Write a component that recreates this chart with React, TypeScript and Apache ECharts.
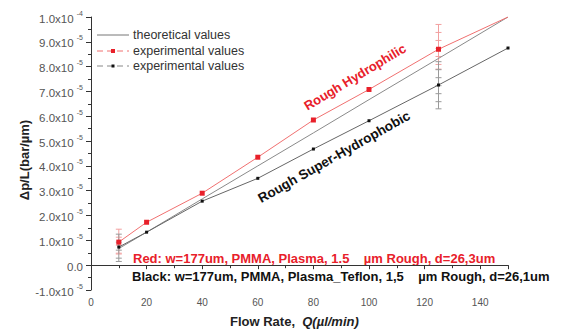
import React, { useEffect, useRef } from "react";
import * as echarts from "echarts";

// Δp/L values are in units of 1e-5 bar/µm
const flowRate = [10, 20, 40, 60, 80, 100, 125, 150];
const theoretical = [0.67, 1.33, 2.67, 4.0, 5.33, 6.67, 8.33, 10.0];
const redExperimental = [0.93, 1.73, 2.9, 4.35, 5.85, 7.08, 8.7, 10.0];
const blackExperimental = [0.73, 1.33, 2.58, 3.5, 4.68, 5.82, 7.26, 8.75];
// [flow, low, high]
const redErrors = [
  [10, 0.45, 1.45],
  [125, 7.9, 9.7],
];
const blackErrors = [
  [10, 0.15, 1.25],
  [125, 6.3, 8.2],
];
const legendLabels = ["theoretical values", "experimental values", "experimental values"];
const redNote = "Red: w=177um, PMMA, Plasma, 1.5    \u00b5m Rough, d=26,3um";
const blackNote = "Black: w=177um, PMMA, Plasma_Teflon, 1,5    \u00b5m Rough, d=26,1um";

const FONT = "Liberation Sans, Arial, sans-serif";

function yLabel(v: number) {
  if (Math.abs(v) < 1e-9) return "{a|0.0}";
  if (Math.abs(v - 10) < 1e-9) return "{a|1.0x10 }{s|-4}";
  return "{a|" + v.toFixed(1) + "x10 }{s|-5}";
}

function errorSeries(data: number[][], color: string) {
  return {
    type: "custom",
    data,
    z: 1,
    silent: true,
    renderItem: (params: any, api: any) => {
      const x = api.value(0);
      const top = api.coord([x, api.value(2)]);
      const bot = api.coord([x, api.value(1)]);
      const children: any[] = [
        { type: "line", shape: { x1: top[0], y1: top[1], x2: bot[0], y2: bot[1] }, style: { stroke: color, lineWidth: 1 } },
      ];
      for (let y = top[1]; y <= bot[1] + 0.5; y += 8) {
        children.push({ type: "line", shape: { x1: top[0] - 3, y1: y, x2: top[0] + 3, y2: y }, style: { stroke: color, lineWidth: 1 } });
      }
      children.push({ type: "line", shape: { x1: bot[0] - 3, y1: bot[1], x2: bot[0] + 3, y2: bot[1] }, style: { stroke: color, lineWidth: 1 } });
      return { type: "group", children };
    },
  };
}

export default function App() {
  const ref = useRef<HTMLDivElement>(null);
  useEffect(() => {
    document.body.style.margin = "0";
    const chart = echarts.init(ref.current!, null, { renderer: "svg" });
    const lx1 = 97, lx2 = 129, tx = 133;
    const rows = [35, 51, 66];
    chart.setOption({
      animation: false,
      backgroundColor: "#fff",
      grid: { left: 91, right: 56, top: 17, bottom: 40 },
      xAxis: {
        type: "value",
        min: 0,
        max: 150,
        interval: 20,
        axisLine: { lineStyle: { color: "#333", width: 1 } },
        axisTick: { show: true, length: 4, lineStyle: { color: "#333" } },
        minorTick: { show: true, splitNumber: 2, length: 3, lineStyle: { color: "#333" } },
        splitLine: { show: false },
        axisLabel: { color: "#555", fontSize: 10, fontFamily: FONT, margin: 7, showMaxLabel: false },
      },
      yAxis: {
        type: "value",
        min: -1,
        max: 10,
        interval: 1,
        axisLine: { show: true, lineStyle: { color: "#333", width: 1 } },
        axisTick: { show: true, length: 5, lineStyle: { color: "#333" } },
        minorTick: { show: true, splitNumber: 2, length: 3, lineStyle: { color: "#333" } },
        splitLine: { show: false },
        axisLabel: {
          margin: 8,
          formatter: (v: number) => yLabel(v),
          rich: {
            a: { color: "#555", fontSize: 11.5, fontFamily: FONT, lineHeight: 15, verticalAlign: "bottom" },
            s: { color: "#555", fontSize: 7, fontFamily: FONT, lineHeight: 15, verticalAlign: "top" },
          },
        },
      },
      series: [
        errorSeries(redErrors, "#f2a0a0"),
        errorSeries(blackErrors, "#9a9a9a"),
        {
          type: "line",
          data: flowRate.map((x, i) => [x, theoretical[i]]),
          showSymbol: false,
          symbol: "none",
          lineStyle: { color: "#8a8a8a", width: 1 },
          z: 2,
        },
        {
          type: "line",
          data: flowRate.map((x, i) => ({ value: [x, redExperimental[i]], symbolSize: i === flowRate.length - 1 ? 0 : 5 })),
          symbol: "rect",
          itemStyle: { color: "#e8202a" },
          lineStyle: { color: "#f07070", width: 1 },
          z: 3,
        },
        {
          type: "line",
          data: flowRate.map((x, i) => [x, blackExperimental[i]]),
          symbol: "rect",
          symbolSize: 3,
          itemStyle: { color: "#111" },
          lineStyle: { color: "#666", width: 1 },
          z: 3,
        },
      ],
      graphic: [
        // legend
        { type: "line", shape: { x1: lx1, y1: rows[0], x2: lx2, y2: rows[0] }, style: { stroke: "#777", lineWidth: 1 } },
        { type: "line", shape: { x1: lx1, y1: rows[1], x2: lx2, y2: rows[1] }, style: { stroke: "#f07070", lineWidth: 1, lineDash: [6, 4] } },
        { type: "rect", shape: { x: 111, y: rows[1] - 2, width: 4, height: 4 }, style: { fill: "#e8202a" } },
        { type: "line", shape: { x1: lx1, y1: rows[2], x2: lx2, y2: rows[2] }, style: { stroke: "#888", lineWidth: 1, lineDash: [6, 4] } },
        { type: "rect", shape: { x: 111.5, y: rows[2] - 1.5, width: 3, height: 3 }, style: { fill: "#111" } },
        ...legendLabels.map((t, i) => ({
          type: "text",
          x: tx,
          y: rows[i],
          style: { text: t, fill: "#333", font: `12.5px ${FONT}`, verticalAlign: "middle" },
        })),
        // axis titles
        {
          type: "text",
          x: 24,
          y: 160,
          rotation: Math.PI / 2,
          style: { text: "\u0394p/L(bar/\u00b5m)", fill: "#222", font: `bold 13px ${FONT}`, align: "center", verticalAlign: "middle" },
        },
        {
          type: "text",
          x: 230,
          y: 321,
          style: {
            text: "{a|Flow Rate,  }{b|Q(\u00b5l/min)}",
            verticalAlign: "middle",
            rich: {
              a: { fill: "#222", fontSize: 13, fontWeight: "bold", fontFamily: FONT },
              b: { fill: "#222", fontSize: 13, fontWeight: "bold", fontStyle: "italic", fontFamily: FONT },
            },
          },
        },
        // annotations
        {
          type: "text",
          x: 355,
          y: 77,
          rotation: (31 * Math.PI) / 180,
          style: { text: "Rough Hydrophilic", fill: "#e8202a", font: `bold 13px ${FONT}`, align: "center", verticalAlign: "middle" },
        },
        {
          type: "text",
          x: 334,
          y: 157,
          rotation: (29.5 * Math.PI) / 180,
          style: { text: "Rough Super-Hydrophobic", fill: "#111", font: `bold 13.5px ${FONT}`, align: "center", verticalAlign: "middle" },
        },
        {
          type: "text",
          x: 133,
          y: 258,
          style: { text: redNote, fill: "#e8202a", font: `bold 13px ${FONT}`, verticalAlign: "middle" },
        },
        {
          type: "text",
          x: 132,
          y: 276,
          style: { text: blackNote, fill: "#111", font: `bold 13px ${FONT}`, verticalAlign: "middle" },
        },
      ],
    });
    return () => chart.dispose();
  }, []);
  return <div ref={ref} style={{ width: 564, height: 330 }} />;
}
